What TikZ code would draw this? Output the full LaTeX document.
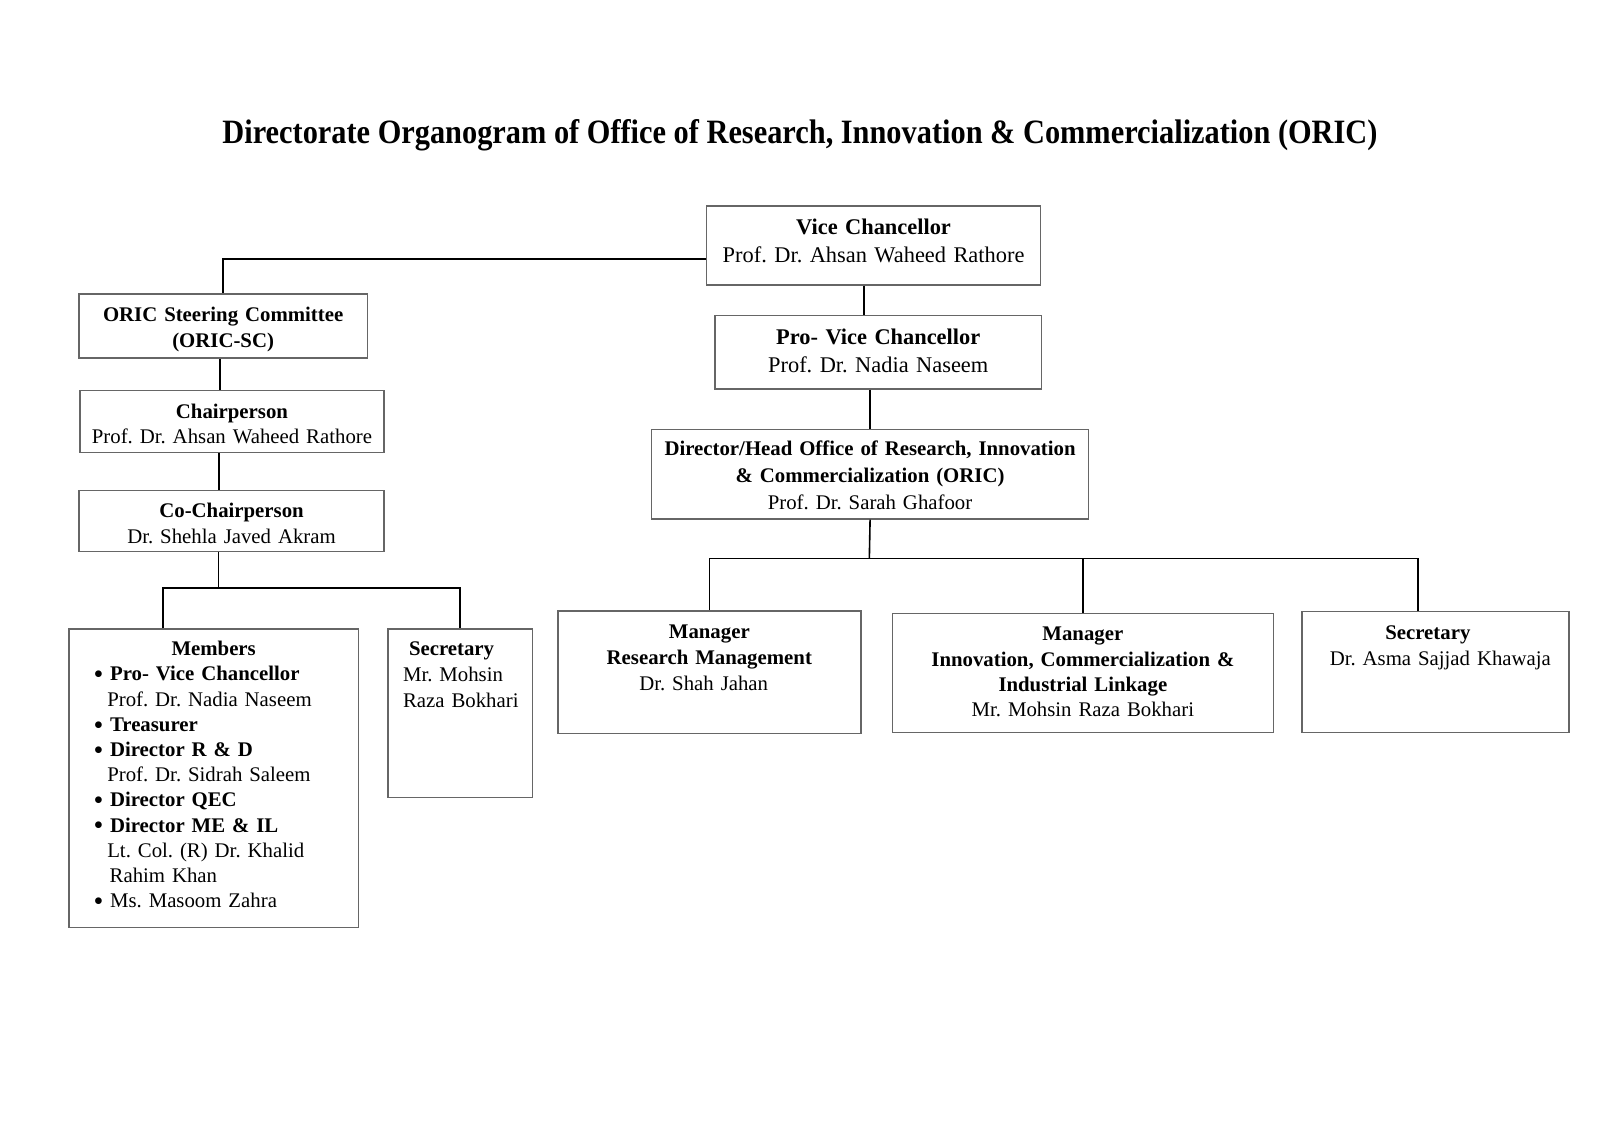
\documentclass[tikz,border=0pt]{standalone}
\usepackage{fontspec}
\setmainfont{Liberation Serif}
\usepackage{graphicx}

\newcommand{\orgitem}{\hspace*{12.3pt}\makebox[8.2pt][l]{\raisebox{-1.4pt}{\scalebox{1.35}{\textbullet}}}}

\begin{document}
\frenchspacing
\begin{tikzpicture}[
x=0.5102pt, y=-0.5102pt,
orgbox/.style={
draw=black!60,
line width=0.7pt,
inner sep=0 pt,
anchor=north west,
align=center,
},
boxdims/.style n args={5}{
text width=#1,
text height=#2,
text depth=#3,
font=\fontsize{#4}{#5}\selectfont,
},
link/.style={line width=0.8pt, black},
]
\useasboundingbox (0,0) rectangle (1568.1,1108.4);

% title
\node [anchor=base] at (784,140.5) (title)
{\resizebox{577.5pt}{12pt}{\fontsize{17pt}{20pt}\selectfont\bfseries Directorate Organogram of Office of Research, Innovation \& Commercialization (ORIC)}};

% university side
\node [orgbox, boxdims={166.8pt}{14.4pt}{25.2pt}{11.2pt}{13.8pt}] at (692,201) (vc)
{\textbf{Vice Chancellor}\\Prof. Dr. Ahsan Waheed Rathore};
\node [orgbox, boxdims={163.3pt}{14.2pt}{22.4pt}{11.2pt}{14.1pt}] at (700,308.7) (pvc)
{\textbf{Pro- Vice Chancellor}\\Prof. Dr. Nadia Naseem};
\node [orgbox, boxdims={218.4pt}{13.0pt}{31.6pt}{10.4pt}{13.4pt}] at (638,420.5) (dir)
{\textbf{Director/Head Office of Research, Innovation}\\
\textbf{\& Commercialization (ORIC)}\\
Prof. Dr. Sarah Ghafoor};

% ORIC staff
\node [orgbox, boxdims={151.5pt}{13.8pt}{47.4pt}{10.4pt}{13.1pt}] at (546,598) (mrm)
{\textbf{Manager}\\\textbf{Research Management}\\Dr. Shah Jahan\kern5.6pt};
\node [orgbox, boxdims={190.4pt}{13.7pt}{45.8pt}{10.4pt}{12.7pt}] at (874,600.4) (micil)
{\textbf{Manager}\\\textbf{Innovation, Commercialization \&}\\
\textbf{Industrial Linkage}\\Mr. Mohsin Raza Bokhari};
\node [orgbox, boxdims={133.5pt}{13.7pt}{46.8pt}{10.4pt}{13.3pt}] at (1275.3,598.8) (secr)
{\textbf{Secretary}\kern7.6pt\\\hspace*{4.9pt}Dr. Asma Sajjad Khawaja};

% steering committee
\node [orgbox, boxdims={144.1pt}{13.8pt}{18.2pt}{10.4pt}{12.8pt}] at (76.8,287.5) (sc)
{\textbf{ORIC Steering Committee}\\\textbf{(ORIC-SC)}};
\node [orgbox, boxdims={152.0pt}{13.7pt}{17.1pt}{10.4pt}{12.65pt}] at (77.7,382.2) (chair)
{\textbf{Chairperson}\\Prof. Dr. Ahsan Waheed Rathore};
\node [orgbox, boxdims={152.5pt}{13.3pt}{17.0pt}{10.4pt}{13.0pt}] at (76.8,480.2) (cochair)
{\textbf{Co-Chairperson}\\Dr. Shehla Javed Akram};

\node [orgbox, align=left, boxdims={144.6pt}{13.3pt}{135.8pt}{10.4pt}{12.6pt}] at (67,615.8) (mem)
{\makebox[144.6pt]{\textbf{Members}}\\
\orgitem\textbf{Pro- Vice Chancellor}\\
\hspace*{19.1pt}Prof. Dr. Nadia Naseem\\
\orgitem\textbf{Treasurer}\\
\orgitem\textbf{Director R \& D}\\
\hspace*{19.1pt}Prof. Dr. Sidrah Saleem\\
\orgitem\textbf{Director QEC}\\
\orgitem\textbf{Director ME \& IL}\\
\hspace*{19.1pt}Lt. Col. (R) Dr. Khalid\\
\hspace*{20.3pt}Rahim Khan\\
\orgitem Ms. Masoom Zahra};
\node [orgbox, align=left, boxdims={72.1pt}{13.3pt}{70.8pt}{10.4pt}{12.9pt}] at (379.6,615.8) (secl)
{\hspace*{10.5pt}\textbf{Secretary}\\
\hspace*{7.5pt}Mr. Mohsin\\
\hspace*{7.5pt}Raza Bokhari};

% right branch lines
\draw [link] ([xshift=-4.8pt]vc.south) -- ([xshift=-4.8pt]vc.south |- pvc.north);
\draw [link] (dir.north |- pvc.south) -- (dir.north);
\coordinate (rsplit) at (852,547.5);
\draw [link] (dir.south) -- (rsplit);
\draw [link] (mrm.north) |- (rsplit) -| ([xshift=-8.75pt]secr.north);
\draw [link] (micil.north) -- (micil.north |- rsplit);

% left branch lines
\draw [link] ([yshift=-6.8pt]vc.west) -| (sc.north);
\draw [link] ([xshift=-1.5pt]sc.south) -- ([xshift=-1.5pt]sc.south |- chair.north);
\draw [link] ([xshift=-6.6pt]chair.south) -- ([xshift=-6.6pt]chair.south |- cochair.north);
\coordinate (lsplit) at (214,576.5);
\draw [link] (cochair.south -| lsplit) -- (lsplit);
\draw [link] ([xshift=-25.4pt]mem.north) |- (lsplit) -| (secl.north);

\end{tikzpicture}
\end{document}
